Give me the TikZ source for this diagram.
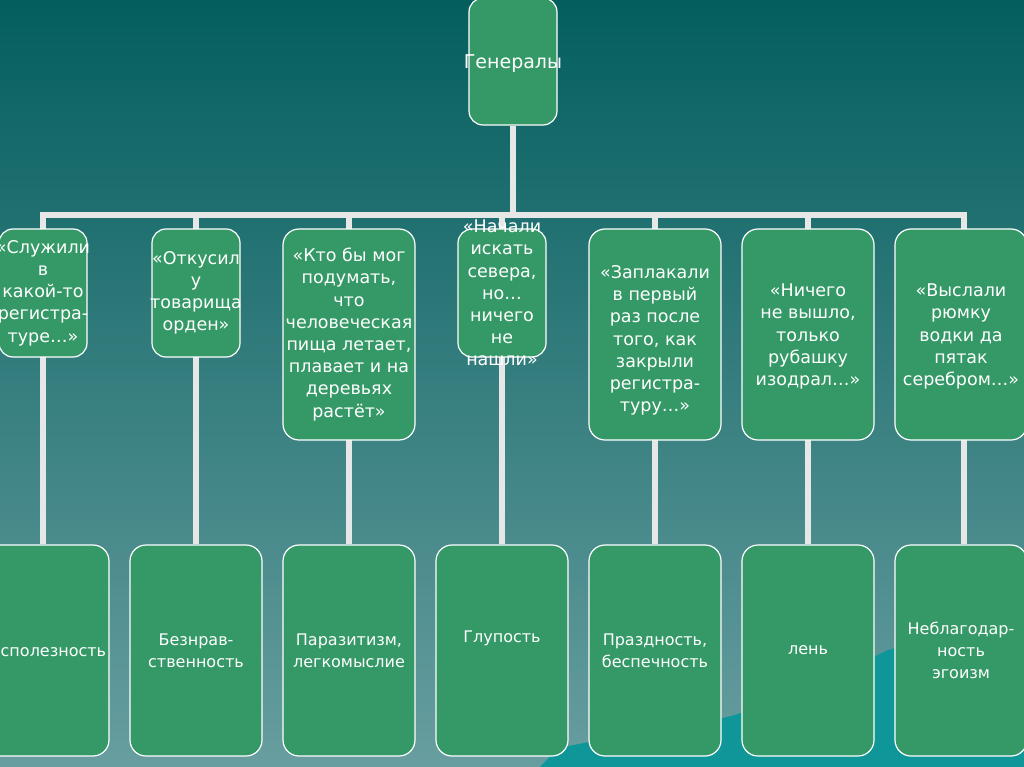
\documentclass[tikz,border=0pt]{standalone}
\usepackage{fontspec}
\setmainfont{DejaVu Sans}
\definecolor{boxgreen}{RGB}{52,153,102}
\definecolor{barg}{RGB}{230,232,232}
\definecolor{bgtop}{RGB}{4,94,94}
\definecolor{bgmid}{RGB}{52,122,124}
\definecolor{bgbot}{RGB}{104,158,160}
\definecolor{ice}{RGB}{14,150,152}
\pgfdeclarelayer{bgl}
\pgfdeclarelayer{lines}
\pgfsetlayers{bgl,lines,main}
\begin{document}
\begin{tikzpicture}[x=1pt,y=-1pt,
  box/.style={draw=white, line width=1.2pt, fill=boxgreen, rounded corners=16pt,
    minimum width=132pt, minimum height=211pt, inner sep=0pt},
  narrow/.style={minimum width=88pt, minimum height=128pt, rounded corners=14pt},
  toptxt/.style={text=white, align=center, font=\fontsize{19}{22}\selectfont, inner sep=0pt},
  midtxt/.style={text=white, align=center, font=\fontsize{17.5}{22.2}\selectfont, inner sep=0pt},
  bottxt/.style={text=white, align=center, font=\fontsize{16}{22}\selectfont, inner sep=0pt},
  bar/.style={draw=barg, line width=6pt}]
\useasboundingbox (0,0) rectangle (1024,767);
\begin{pgfonlayer}{bgl}
  \shade[top color=bgtop, middle color=bgmid, bottom color=bgbot] (0,0) rectangle (1024,767);
  \fill[ice] (540,767) -- (558,748) -- (610,738) -- (680,728) -- (735,715)
    -- (790,695) -- (850,668) -- (888,650) -- (930,640) -- (1024,628) -- (1024,767) -- cycle;
\end{pgfonlayer}

% top
\node[box, minimum width=88pt, minimum height=127pt, rounded corners=14pt] (top) at (513,61.5) {};
\node[toptxt] (topt) at ([yshift=-2pt]top) {Генералы};

% middle row
\node[box, narrow] (m1) at (43,293) {};
\node[box, narrow] (m2) at (196,293) {};
\node[box] (m3) at (349,334.5) {};
\node[box, narrow] (m4) at (502,293) {};
\node[box] (m5) at (655,334.5) {};
\node[box] (m6) at (808,334.5) {};
\node[box] (m7) at (961,334.5) {};

\node[midtxt] (m1t) at (m1) {«Служили\\в\\какой-то\\регистра-\\туре…»};
\node[midtxt] (m2t) at (m2) {«Откусил\\у\\товарища\\орден»};
\node[midtxt] (m3t) at (m3) {«Кто бы мог\\подумать,\\что\\человеческая\\пища летает,\\плавает и на\\деревьях\\растёт»};
\node[midtxt] (m4t) at (m4) {«Начали\\искать\\севера,\\но…\\ничего\\не\\нашли»};
\node[midtxt] (m5t) at ([yshift=-6pt]m5) {«Заплакали\\в первый\\раз после\\того, как\\закрыли\\регистра-\\туру…»};
\node[midtxt] (m6t) at ([yshift=-2pt]m6) {«Ничего\\не вышло,\\только\\рубашку\\изодрал…»};
\node[midtxt] (m7t) at ([yshift=-2pt]m7) {«Выслали\\рюмку\\водки да\\пятак\\серебром…»};

% bottom row
\node[box] (b1) at (43,650.5) {};
\node[box] (b2) at (196,650.5) {};
\node[box] (b3) at (349,650.5) {};
\node[box] (b4) at (502,650.5) {};
\node[box] (b5) at (655,650.5) {};
\node[box] (b6) at (808,650.5) {};
\node[box] (b7) at (961,650.5) {};

\node[bottxt] (b1t) at (b1) {Бесполезность};
\node[bottxt] (b2t) at (b2) {Безнрав-\\ственность};
\node[bottxt] (b3t) at (b3) {Паразитизм,\\легкомыслие};
\node[bottxt] (b4t) at (b4) {Глупость\\\strut};
\node[bottxt] (b5t) at (b5) {Праздность,\\беспечность};
\node[bottxt] (b6t) at (b6) {лень};
\node[bottxt] (b7t) at (b7) {Неблагодар-\\ность\\эгоизм};

\coordinate (hbar) at (513,215);
\begin{pgfonlayer}{lines}
  \draw[bar] (top.south) -- (hbar);
  \draw[bar, line cap=rect] (b1.north |- hbar) -- ([xshift=3pt]b7.north |- hbar);
  \foreach \i in {1,...,6} {
    \draw[bar] (m\i.north |- hbar) -- (b\i.north);
  }
  \draw[bar] ([xshift=3pt]m7.north |- hbar) -- ([xshift=3pt]b7.north);
\end{pgfonlayer}
\end{tikzpicture}
\end{document}
